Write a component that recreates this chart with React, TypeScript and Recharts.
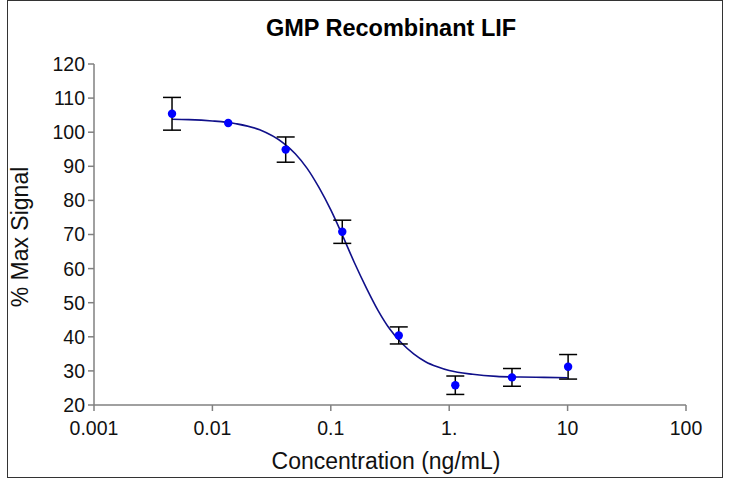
import React from 'react';
import { ComposedChart, Line, Scatter, XAxis, YAxis, ErrorBar, Label } from 'recharts';

// Measured data points (concentration ng/mL, % max signal, error)
const concentrations = [0.00456, 0.0136, 0.0416, 0.125, 0.375, 1.126, 3.39, 10.1];
const meanSignal = [105.4, 102.7, 94.9, 70.8, 40.4, 25.8, 28.1, 31.2];
const errorSD = [4.8, 0, 3.7, 3.4, 2.5, 2.7, 2.6, 3.6];

// Fitted curve
const fitConc = [0.00456, 0.00631, 0.01, 0.0158, 0.0251, 0.0398, 0.0501, 0.0631, 0.0794, 0.1, 0.126, 0.158, 0.2, 0.251, 0.316, 0.398, 0.501, 0.631, 0.794, 1, 1.58, 2.51, 3.98, 6.31, 10];
const fitSignal = [103.8, 103.7, 103.3, 102.5, 100.7, 96.8, 93.7, 89.4, 83.8, 77.2, 69.6, 61.8, 54.3, 47.7, 42.2, 38.1, 35.0, 32.7, 31.2, 30.1, 29.0, 28.4, 28.2, 28.1, 28.0];

const xTicks = [0.001, 0.01, 0.1, 1, 10, 100];
const xTickLabels = ['0.001', '0.01', '0.1', '1.', '10', '100'];
const yTicks = [20, 30, 40, 50, 60, 70, 80, 90, 100, 110, 120];

const title = 'GMP Recombinant LIF';
const xTitle = 'Concentration (ng/mL)';
const yTitle = '% Max Signal';

const points = concentrations.map((x, i) => ({ x, y: meanSignal[i], err: errorSD[i] }));
const fit = fitConc.map((x, i) => ({ x, y: fitSignal[i] }));

const FONT = '"Liberation Sans", Arial, sans-serif';

export default function App() {
  return (
    <div style={{ position: 'absolute', left: 0, top: 0, width: 730, height: 478, background: '#fff' }}>
      <div
        style={{
          position: 'absolute', left: 7, top: 0, width: 716, height: 478,
          boxSizing: 'border-box', border: '1px solid #333',
        }}
      />
      <div
        style={{
          position: 'absolute', left: 0, top: 16, width: 782, textAlign: 'center',
          fontFamily: FONT, fontWeight: 'bold', fontSize: 23.5, lineHeight: '24px', color: '#000',
          whiteSpace: 'nowrap',
        }}
      >
        {title}
      </div>
      <div style={{ position: 'absolute', left: 0, top: 0 }}>
        <ComposedChart width={730} height={478} margin={{ top: 64, right: 44, bottom: 23, left: 0 }}>
          <XAxis
            dataKey="x"
            type="number"
            scale="log"
            domain={[0.001, 100]}
            ticks={xTicks}
            allowDataOverflow
            height={50}
            stroke="#808080"
            strokeWidth={1.5}
            tickSize={6}
            tickMargin={10}
            tick={{ fill: '#111', fontSize: 19.5, fontFamily: FONT }}
            tickFormatter={(v: number) => xTickLabels[xTicks.indexOf(v)] ?? String(v)}
          >
            <Label
              content={(props: any) => {
                const vb = props.viewBox || { x: 94, y: 405, width: 592 };
                return (
                  <text
                    x={vb.x + vb.width / 2 - 4}
                    y={vb.y + 64}
                    textAnchor="middle"
                    fontSize={23}
                    fontFamily={FONT}
                    fill="#111"
                  >
                    {xTitle}
                  </text>
                );
              }}
            />
          </XAxis>
          <YAxis
            type="number"
            domain={[20, 120]}
            ticks={yTicks}
            width={94}
            stroke="#808080"
            strokeWidth={1.5}
            tickSize={6}
            tickMargin={3}
            tick={{ fill: '#111', fontSize: 19.5, fontFamily: FONT }}
          >
            <Label
              content={(props: any) => {
                const cx = 19.5;
                const cy = 237;
                return (
                  <text
                    x={cx}
                    y={cy}
                    transform={`rotate(-90, ${cx}, ${cy})`}
                    textAnchor="middle"
                    dominantBaseline="central"
                    fontSize={23}
                    fontFamily={FONT}
                    fill="#111"
                  >
                    {yTitle}
                  </text>
                );
              }}
            />
          </YAxis>
          <Line
            data={fit}
            dataKey="y"
            type="monotone"
            stroke="#10108a"
            strokeWidth={1.6}
            dot={false}
            activeDot={false}
            isAnimationActive={false}
          />
          <Scatter
            data={points}
            dataKey="y"
            isAnimationActive={false}
            shape={(p: any) => <circle cx={p.cx} cy={p.cy} r={4.2} fill="#0000ff" />}
          >
            <ErrorBar dataKey="err" direction="y" width={9} stroke="#000" strokeWidth={1.5} />
          </Scatter>
        </ComposedChart>
      </div>
    </div>
  );
}
